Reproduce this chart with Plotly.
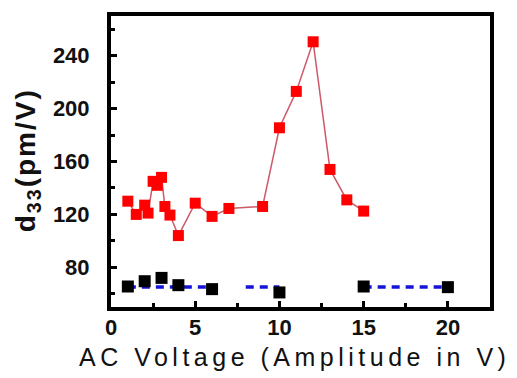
import plotly.graph_objects as go

# Red series (d33 vs AC amplitude)
red_x = [1, 1.5, 2, 2.2, 2.5, 2.75, 3, 3.2, 3.5, 4, 5, 6, 7, 9, 10, 11, 12, 13, 14, 15]
red_y = [130, 120, 127, 121, 145, 142, 148, 126, 119.5, 104, 128.5, 118.5, 124.5, 126, 185.5, 213, 250.5, 154, 131, 122.5]

# Black series
black_x = [1, 2, 3, 4, 6, 10, 15, 20]
black_y = [65.5, 69.5, 72, 66.5, 63.5, 61, 65.5, 65]

# Blue dashed reference line segments (None = gap)
blue_x = [1, 6, None, 8, 10, None, 15, 20]
blue_y = [65.2, 65.2, None, 65.2, 65.2, None, 65.2, 65.2]

x_title = "AC Voltage (Amplitude in V)"
y_title = "d<sub>33</sub>(pm/V)"

fig = go.Figure()
fig.add_trace(go.Scatter(x=red_x, y=red_y, mode="lines+markers",
                         line=dict(color="rgb(205,90,105)", width=1.5),
                         marker=dict(symbol="square", size=11, color="#ff0000"),
                         showlegend=False))
fig.add_trace(go.Scatter(x=blue_x, y=blue_y, mode="lines",
                         line=dict(color="#1414d8", width=3.5, dash="8px,6px"),
                         connectgaps=False, showlegend=False))
fig.add_trace(go.Scatter(x=black_x, y=black_y, mode="markers",
                         marker=dict(symbol="square", size=12, color="#000000"),
                         showlegend=False))

tickfont = dict(family="Liberation Sans, Arial", size=22, color="#111", weight="bold")
fig.update_layout(
    width=517, height=378,
    margin=dict(l=111, r=27, t=13, b=71),
    paper_bgcolor="white", plot_bgcolor="white",
    xaxis=dict(range=[0, 22.5], tick0=0, dtick=5, ticks="inside", ticklen=6, tickwidth=2.5,
               tickcolor="black", showline=True, linewidth=4, linecolor="black", mirror=True,
               showgrid=False, zeroline=False, tickfont=tickfont, ticklabelstandoff=-2,
               minor=dict(dtick=2.5, ticks="inside", ticklen=4, tickwidth=2.5, tickcolor="black", showgrid=False)),
    yaxis=dict(range=[50, 270], tick0=0, dtick=40, ticks="inside", ticklen=6, tickwidth=2.5,
               tickcolor="black", showline=True, linewidth=4, linecolor="black", mirror=True,
               showgrid=False, zeroline=False, tickfont=tickfont, ticklabelstandoff=13,
               minor=dict(dtick=20, ticks="inside", ticklen=4, tickwidth=2.5, tickcolor="black", showgrid=False)),
    annotations=[
        dict(text='<span style="letter-spacing:4.5px">' + x_title + '</span>',
             xref="paper", yref="paper", x=0.485, y=-0.173, xanchor="center", yanchor="middle",
             showarrow=False, font=dict(family="Liberation Sans, Arial", size=25, color="#111")),
        dict(text='<span style="letter-spacing:2px">' + y_title + '</span>',
             xref="paper", yref="paper", x=-0.22, y=0.503, xanchor="center", yanchor="middle",
             textangle=-90, showarrow=False,
             font=dict(family="Liberation Sans, Arial", size=28, color="#111", weight="bold")),
    ],
)
fig.write_html("out.html")
